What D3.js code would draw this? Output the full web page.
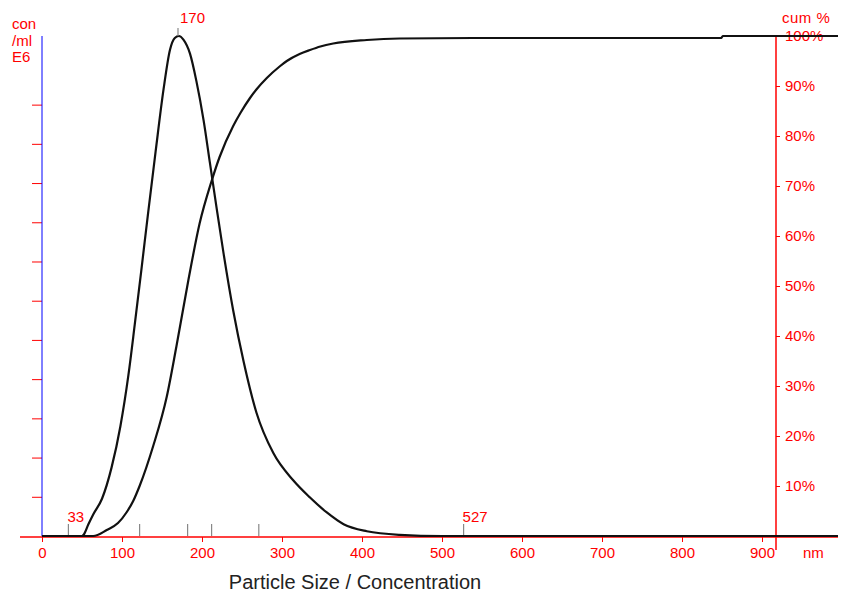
<html lang="en">
<head>
<meta charset="UTF-8">
<title>Particle Size / Concentration</title>
<script src="https://cdn.jsdelivr.net/npm/d3@7"></script>
<style>
    body { margin:0; padding:0; background:#fff; }
    text { font-family: "Liberation Sans", Arial, sans-serif; }
</style>
</head>
<body>
<svg width="841" height="599"></svg>
<script>

// particle size (nm) / concentration (relative, left)
var distSize = [0, 50, 52, 58, 64, 75, 87, 98, 108, 116, 124, 133, 142, 152, 160, 166, 171, 177,
                185, 193, 202, 210, 218, 227, 239, 252, 268, 289, 314, 335, 356, 377, 406, 447,
                500, 700, 995]
var distConc = [0, 0, 0.03, 0.3, 0.55, 0.95, 1.75, 2.8, 4.1, 5.4, 6.75, 8.3, 9.8, 11.4, 12.4, 12.7, 12.75, 12.65,
                12.3, 11.6, 10.6, 9.5, 8.4, 7.2, 5.75, 4.45, 3.15, 2.12, 1.42, 0.98, 0.6, 0.3, 0.12, 0.03,
                0, 0, 0]

// cumulative %
var cumSize = [0, 64, 81, 95, 106, 114, 122, 139, 156, 168, 183, 197, 212, 222, 239, 248, 260, 268,
               281, 297, 306, 322, 335, 348, 364, 406, 447, 539, 700, 849, 851, 995]
var cumPct  = [0, 0, 1.2, 2.6, 4.8, 7, 10, 18, 27.9, 37.9, 51.2, 62.5, 71, 75.8, 82, 84.6, 87.6, 89.3,
               91.6, 93.9, 95, 96.4, 97.2, 97.9, 98.5, 99.2, 99.5, 99.6, 99.6, 99.6, 100, 100]

var xTicks = [0, 100, 200, 300, 400, 500, 600, 700, 800, 900]
var cumTicks = [10, 20, 30, 40, 50, 60, 70, 80, 90, 100]
var concTicks = [1, 2, 3, 4, 5, 6, 7, 8, 9, 10, 11]
var markers = [33, 122, 182, 212, 271, 527]
var markerLabels = [33, 527]
var peak = 170

var svg = d3.select('svg')

var x = d3.scaleLinear().domain([0, 1000]).range([42, 842])
var yL = d3.scaleLinear().domain([0, 12.75]).range([536, 36])
var yR = d3.scaleLinear().domain([0, 100]).range([536, 36])

var base = 537, rightX = 776

// x axis
var gx = svg.append('g').attr('transform', 'translate(0,' + base + ')')
    .call(d3.axisBottom(x).tickValues(xTicks).tickSize(5).tickPadding(5))
gx.select('.domain').remove()
gx.selectAll('line').attr('stroke', 'red')
gx.selectAll('text').attr('fill', 'red').style('font-size', '15px')
svg.append('line').attr('x1', 20).attr('x2', 838).attr('y1', base).attr('y2', base)
    .attr('stroke', 'red').attr('stroke-width', 1.5)

// left axis (no labels)
var gl = svg.append('g').attr('transform', 'translate(42,0)')
    .call(d3.axisLeft(yL).tickValues(concTicks).tickSize(10).tickFormat(''))
gl.select('.domain').remove()
gl.selectAll('line').attr('stroke', 'red')
svg.append('line').attr('x1', 42).attr('x2', 42).attr('y1', 36).attr('y2', 536)
    .attr('stroke', 'blue').attr('stroke-width', 1)

// right axis
var gr = svg.append('g').attr('transform', 'translate(' + rightX + ',0)')
    .call(d3.axisRight(yR).tickValues(cumTicks).tickSize(4).tickPadding(5).tickFormat(d => d + '%'))
gr.select('.domain').remove()
gr.selectAll('line').attr('stroke', 'red')
gr.selectAll('text').attr('fill', 'red').style('font-size', '15px')
svg.append('line').attr('x1', rightX).attr('x2', rightX).attr('y1', 36).attr('y2', 550)
    .attr('stroke', 'red').attr('stroke-width', 1.5)

// grey marker ticks on baseline
svg.selectAll('.mk').data(markers).enter().append('line')
    .attr('x1', d => x(d)).attr('x2', d => x(d)).attr('y1', 536).attr('y2', 524)
    .attr('stroke', '#888').attr('stroke-width', 1.2)
svg.selectAll('.mkl').data(markerLabels).enter().append('text')
    .attr('x', d => x(d) - 1).attr('y', 522)
    .attr('fill', 'red').style('font-size', '15px').text(d => d)

// curves
var line = d3.line().curve(d3.curveMonotoneX)
svg.append('path')
    .attr('d', line(cumSize.map((s, i) => [x(s), yR(cumPct[i])])))
    .attr('fill', 'none').attr('stroke', '#111').attr('stroke-width', 2.2)
svg.append('path')
    .attr('d', line(distSize.map((s, i) => [x(s), yL(distConc[i])])))
    .attr('fill', 'none').attr('stroke', '#111').attr('stroke-width', 2.2)

// peak marker
svg.append('line').attr('x1', x(peak)).attr('x2', x(peak)).attr('y1', 28).attr('y2', 36)
    .attr('stroke', '#888').attr('stroke-width', 1.2)
svg.append('text').attr('x', x(peak) + 2).attr('y', 23)
    .attr('fill', 'red').style('font-size', '15px').text(peak)

// unit labels
var unitL = svg.append('text').attr('fill', 'red').style('font-size', '15px')
;['con', '/ml', 'E6'].forEach((t, i) => {
    unitL.append('tspan').attr('x', 12).attr('y', 29 + i * 16.5).text(t)
})
svg.append('text').attr('x', 782).attr('y', 23).attr('fill', 'red')
    .style('font-size', '15px').style('letter-spacing', '0.5px').text('cum %')
svg.append('text').attr('x', 803).attr('y', 558).attr('fill', 'red')
    .style('font-size', '15px').text('nm')

// title
svg.append('text').attr('x', 355).attr('y', 589).attr('text-anchor', 'middle')
    .attr('fill', '#222').style('font-size', '20px').text('Particle Size / Concentration')

</script>
</body>
</html>
